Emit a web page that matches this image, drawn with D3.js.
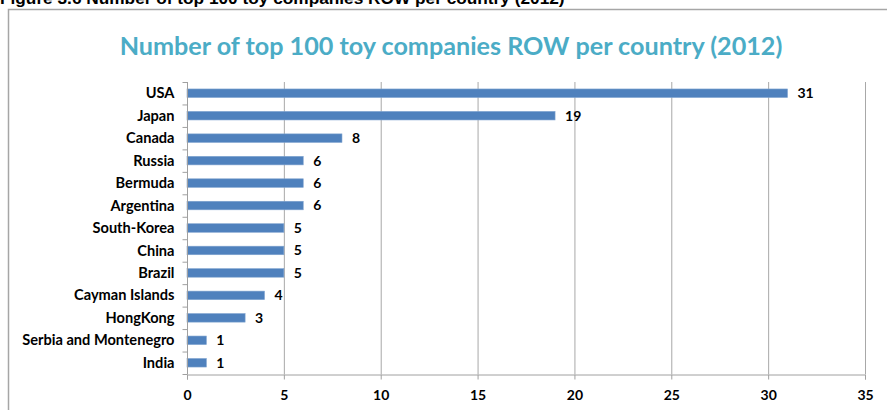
<!DOCTYPE html>
<html><head><meta charset="utf-8">
<script src="https://cdn.jsdelivr.net/npm/d3@7"></script>
<style>body{margin:0;background:#fff;}svg{display:block;}</style>
</head><body>
<script>
const categories = ["USA","Japan","Canada","Russia","Bermuda","Argentina","South-Korea","China","Brazil","Cayman Islands","HongKong","Serbia and Montenegro","India"];
const values = [31,19,8,6,6,6,5,5,5,4,3,1,1];
const xTicks = [0,5,10,15,20,25,30,35];
const titleText = "Number of top 100 toy companies ROW per country (2012)";
const captionText = "Figure 3.6 Number of top 100 toy companies ROW per country (2012)";

const W = 887, H = 410;
const svg = d3.select("body").append("svg").attr("width", W).attr("height", H);
const font = "Lato, 'Open Sans', sans-serif";

function fitWidth(sel, target){
  const w = sel.node().getComputedTextLength();
  const fs = parseFloat(sel.attr("font-size"));
  sel.attr("font-size", fs * target / w);
}

// caption (partly above the top edge, as in the source image)
const cap = svg.append("text").attr("x", 0).attr("y", 4)
  .attr("font-family", "Arial, 'Liberation Sans', sans-serif").attr("font-weight", "bold")
  .attr("font-size", 14).attr("fill", "#000").text(captionText);
fitWidth(cap, 565);

// chart border
svg.append("path").attr("d", `M8.5,${H} V9.5 H${W}`)
  .attr("fill", "none").attr("stroke", "#a6a6a6").attr("stroke-width", 1.5);

// title
const title = svg.append("text").attr("x", 451).attr("y", 55).attr("text-anchor", "middle")
  .attr("font-family", font).attr("font-weight", "bold").attr("font-size", 24)
  .attr("fill", "#4BACC6").text(titleText);
fitWidth(title, 663);

const x = d3.scaleLinear().domain([0, 35]).range([187, 865]);
const y = d3.scaleBand().domain(categories).range([82, 374]).paddingInner(0.62).paddingOuter(0.31);

// gridlines
svg.append("g").selectAll("line").data(xTicks.slice(1)).join("line")
  .attr("x1", d => x(d) + 0.5).attr("x2", d => x(d) + 0.5)
  .attr("y1", 82).attr("y2", 374).attr("stroke", "#a8a8a8").attr("stroke-width", 1);

// bars
svg.append("g").selectAll("rect").data(categories).join("rect")
  .attr("x", x(0)).attr("y", d => y(d))
  .attr("width", (d, i) => x(values[i]) - x(0)).attr("height", y.bandwidth())
  .attr("fill", "#4F81BD").attr("stroke", "#7fa3cf").attr("stroke-width", 0.6);

// x axis
const xAxis = svg.append("g").attr("transform", "translate(0,374.5)")
  .call(d3.axisBottom(x).tickValues(xTicks).tickSize(5).tickPadding(11));
xAxis.select(".domain").attr("stroke", "#a0a0a0");
xAxis.selectAll(".tick line").attr("stroke", "#a0a0a0");
xAxis.selectAll("text").attr("font-family", font).attr("font-weight", "bold")
  .attr("font-size", 14).attr("fill", "#000");

// y axis
const step = y.step();
const yAxis = svg.append("g").attr("transform", `translate(${x(0) + 0.5},0)`);
yAxis.append("line").attr("x1", 0).attr("x2", 0).attr("y1", 82).attr("y2", 374).attr("stroke", "#a0a0a0");
yAxis.selectAll(".yt").data(d3.range(categories.length + 1)).join("line")
  .attr("x1", -5).attr("x2", 0)
  .attr("y1", i => 82 + i * step + 0.5).attr("y2", i => 82 + i * step + 0.5)
  .attr("stroke", "#a0a0a0");
yAxis.selectAll("text").data(categories).join("text")
  .attr("x", -13).attr("y", d => y(d) + y.bandwidth() / 2).attr("dy", "0.35em")
  .attr("text-anchor", "end").attr("font-family", font).attr("font-weight", "bold")
  .attr("font-size", 14.6).attr("fill", "#000").text(d => d);

// value labels
svg.append("g").selectAll("text").data(categories).join("text")
  .attr("x", (d, i) => x(values[i]) + 10).attr("y", d => y(d) + y.bandwidth() / 2).attr("dy", "0.35em")
  .attr("font-family", font).attr("font-weight", "bold").attr("font-size", 14)
  .attr("fill", "#000").text((d, i) => values[i]);
</script>
</body></html>
